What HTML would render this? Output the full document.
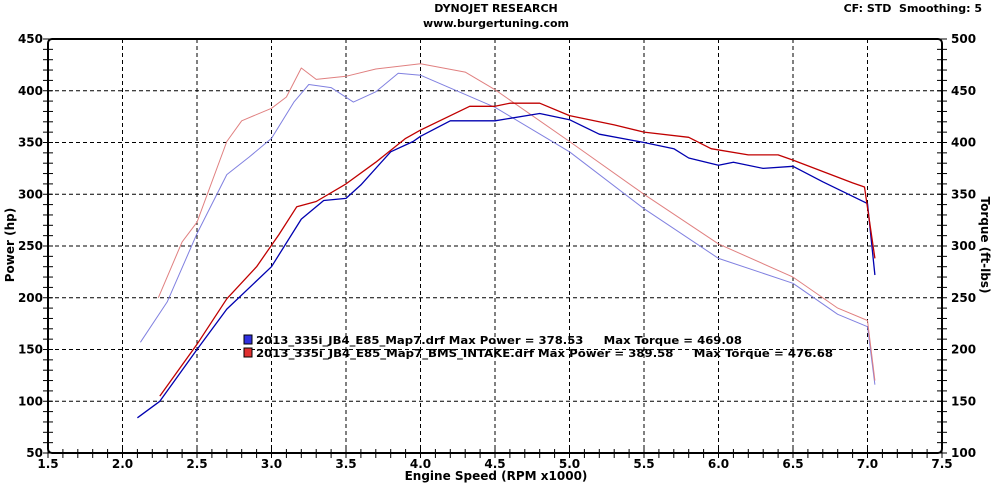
<!DOCTYPE html>
<html><head><meta charset="utf-8"><style>
body{margin:0;background:#fff;}
svg{display:block;font-family:Verdana,"DejaVu Sans",sans-serif;}
</style></head><body>
<svg id="c" width="992" height="485" xmlns="http://www.w3.org/2000/svg"></svg>
<script>
const rpmBluePower=[2.1,2.25,2.5,2.7,3.0,3.2,3.35,3.5,3.6,3.8,3.95,4.0,4.2,4.5,4.8,5.0,5.2,5.5,5.7,5.8,6.0,6.1,6.3,6.5,6.7,6.9,7.0,7.05];
const bluePower=[84,100,150,189,230,276,294,296,309,341,351,356,371,371,378,372,358,350,344,335,328,331,325,327,312,298,291,222];
const rpmRedPower=[2.25,2.5,2.7,2.9,3.05,3.17,3.3,3.5,3.7,3.9,4.0,4.33,4.5,4.6,4.8,5.0,5.3,5.5,5.8,5.95,6.2,6.4,6.5,6.7,6.9,6.98,7.05];
const redPower=[105,155,199,230,261,288,293,310,331,354,362,385,385,388,388,376,367,360,355,344,338,338,333,322,311,307,238];
const rpmBlueTorque=[2.12,2.3,2.5,2.7,2.85,3.0,3.15,3.25,3.4,3.55,3.7,3.85,4.0,4.5,5.0,5.5,6.0,6.5,6.8,7.0,7.05];
const blueTorque=[207,246,312,369,386,404,439,456,453,439,449,467,465,434,391,336,288,264,234,222,166];
const rpmRedTorque=[2.24,2.4,2.5,2.7,2.8,3.0,3.1,3.2,3.3,3.5,3.7,4.0,4.3,4.5,5.0,5.5,6.0,6.5,6.8,7.0,7.05];
const redTorque=[250,304,323,401,421,433,444,472,461,464,471,476,468,451,401,350,302,270,240,228,170];
const xTicks=[1.5,2.0,2.5,3.0,3.5,4.0,4.5,5.0,5.5,6.0,6.5,7.0,7.5];
const hpTicks=[50,100,150,200,250,300,350,400,450];
const tqTicks=[100,150,200,250,300,350,400,450,500];

const L=48,R=942,T=39,B=453;
const X=v=>L+(v-1.5)*(R-L)/6;
const YH=v=>B-(v-50)*(B-T)/400;
const YT=v=>B-(v-100)*(B-T)/400;
const svg=document.getElementById('c');
const NS='http://www.w3.org/2000/svg';
function mk(tag,attrs,txt){const e=document.createElementNS(NS,tag);for(const k in attrs)e.setAttribute(k,attrs[k]);if(txt!==undefined)e.textContent=txt;svg.appendChild(e);return e;}

xTicks.slice(1,-1).forEach(v=>{const e=mk('line',{x1:X(v),x2:X(v),y1:T,y2:B,stroke:'#000','stroke-dasharray':'4,3','stroke-width':1});

});
hpTicks.slice(1,-1).forEach(v=>{const e=mk('line',{x1:L,x2:R,y1:YH(v),y2:YH(v),stroke:'#000','stroke-dasharray':'4,3','stroke-width':1});

});
const fr=mk('rect',{x:L,y:T,width:R-L,height:B-T,rx:4,fill:'none',stroke:'#000','stroke-width':2});


for(let v=50;v<=450;v+=10){mk('line',{x1:L-5,x2:L+5,y1:YH(v),y2:YH(v),stroke:'#000'});mk('line',{x1:R-5,x2:R+5,y1:YH(v),y2:YH(v),stroke:'#000'});}
for(let i=0;i<=60;i++){const v=1.5+i*0.1;mk('line',{x1:X(v),x2:X(v),y1:B-4,y2:B+5,stroke:'#000'});}
xTicks.forEach(v=>{const e=mk('text',{x:X(v),y:468,'font-size':12,'font-weight':'bold','text-anchor':'middle'},v.toFixed(1));

});
hpTicks.forEach(v=>{const e=mk('text',{x:43,y:YH(v)+4,'font-size':12,'font-weight':'bold','text-anchor':'end'},v);

});
tqTicks.forEach(v=>{const e=mk('text',{x:951,y:YT(v)+4,'font-size':12,'font-weight':'bold'},v);

});
function line(xs,ys,yf,color,w,name){const d=xs.map((x,i)=>(i?'L':'M')+X(x).toFixed(1)+','+yf(ys[i]).toFixed(1)).join(' ');
const e=mk('path',{d:d,fill:'none',stroke:color,'stroke-width':w,'stroke-linejoin':'round'});

}
line(rpmBlueTorque,blueTorque,YT,'#8080e0',1,'blue-torque-line');
line(rpmRedTorque,redTorque,YT,'#e08080',1,'red-torque-line');
line(rpmBluePower,bluePower,YH,'#0000b0',1.3,'blue-power-line');
line(rpmRedPower,redPower,YH,'#c00000',1.3,'red-power-line');
const sw1=mk('rect',{x:244,y:335,width:8,height:9,fill:'#3030e0',stroke:'#000','stroke-width':1});


const sw2=mk('rect',{x:244,y:348,width:8,height:9,fill:'#e03030',stroke:'#000','stroke-width':1});


const t1=mk('text',{x:256,y:344,'font-size':11,'font-weight':'bold',textLength:486,lengthAdjust:'spacingAndGlyphs',style:'white-space:pre'},'2013_335i_JB4_E85_Map7.drf Max Power = 378.53     Max Torque = 469.08');


const t2=mk('text',{x:256,y:357,'font-size':11,'font-weight':'bold',textLength:577,lengthAdjust:'spacingAndGlyphs',style:'white-space:pre'},'2013_335i_JB4_E85_Map7_BMS_INTAKE.drf Max Power = 389.58     Max Torque = 476.68');


</script>
<div style="position:absolute;left:0;top:0;width:992px;height:485px;font-family:Verdana,'DejaVu Sans',sans-serif;font-weight:bold;">
<div style="position:absolute;left:0;width:992px;top:2px;text-align:center;font-size:11px;">DYNOJET RESEARCH</div>
<div style="position:absolute;left:0;width:992px;top:17px;text-align:center;font-size:11px;">www.burgertuning.com</div>
<div style="position:absolute;right:10px;top:2px;font-size:11px;">CF: STD&nbsp; Smoothing: 5</div>
<div style="position:absolute;left:0;width:992px;top:469px;text-align:center;font-size:12px;">Engine Speed (RPM x1000)</div>
<div style="position:absolute;left:-40px;top:238px;width:100px;text-align:center;font-size:12px;transform:rotate(-90deg);">Power (hp)</div>
<div style="position:absolute;left:925px;top:238px;width:120px;text-align:center;font-size:12px;transform:rotate(90deg);">Torque (ft-lbs)</div>
</div>
</body></html>
